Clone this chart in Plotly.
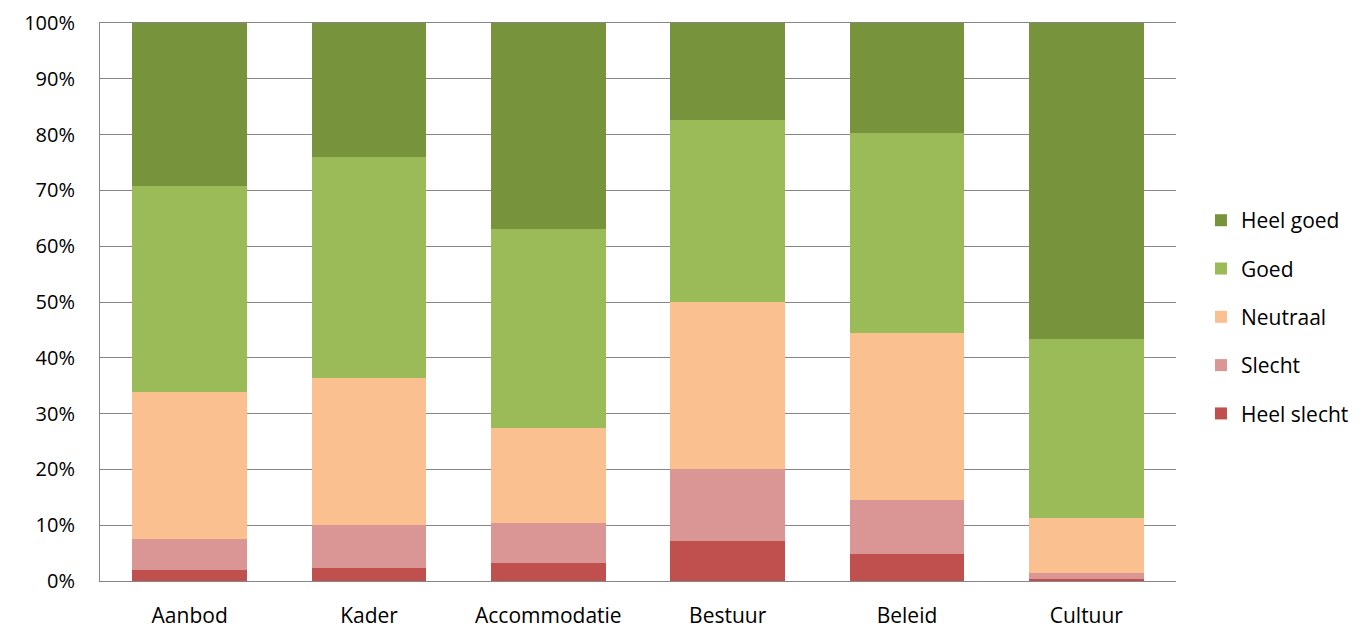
import plotly.graph_objects as go

categories = ["Aanbod", "Kader", "Accommodatie", "Bestuur", "Beleid", "Cultuur"]
heel_slecht = [1.9, 2.4, 3.2, 7.2, 4.9, 0.3]
slecht = [5.6, 7.6, 7.2, 12.9, 9.6, 1.1]
neutraal = [26.4, 26.4, 17.0, 29.9, 30.0, 9.9]
goed = [36.9, 39.5, 35.7, 32.6, 35.8, 32.1]
heel_goed = [29.2, 24.1, 36.9, 17.4, 19.7, 56.6]
tick_values = [0, 10, 20, 30, 40, 50, 60, 70, 80, 90, 100]
tick_labels = [f"{v}%" for v in tick_values]

series = [
    ("Heel slecht", heel_slecht, "#C0504D"),
    ("Slecht", slecht, "#D99694"),
    ("Neutraal", neutraal, "#FAC090"),
    ("Goed", goed, "#9BBB59"),
    ("Heel goed", heel_goed, "#77933C"),
]

fig = go.Figure()
for i, (name, vals, col) in enumerate(series):
    fig.add_trace(go.Bar(
        x=categories, y=vals, name=name, legendgroup=name,
        legendrank=len(series) - i,
        marker=dict(color=col, line=dict(width=0)),
    ))

font = dict(family="'Open Sans', sans-serif", size=21, color="#000000")
yfont = dict(family="'Open Sans', sans-serif", size=20, color="#000000")
fig.update_layout(
    barmode="stack",
    bargap=0.36,
    width=1358, height=620,
    margin=dict(l=92, r=190, t=15, b=47, autoexpand=False),
    paper_bgcolor="white", plot_bgcolor="white",
    font=font,
    showlegend=True,
    legend=dict(
        traceorder="grouped", tracegroupgap=18,
        x=1.0232, xanchor="left", y=0.473, yanchor="middle",
        font=font, bgcolor="rgba(0,0,0,0)",
    ),
    xaxis=dict(
        showline=True, mirror=True, linecolor="#868686", linewidth=1,
        ticks="", showgrid=False, tickfont=font, ticklabelstandoff=16,
        automargin=False,
    ),
    yaxis=dict(
        range=[0, 100], tickmode="array", tickvals=tick_values, ticktext=tick_labels,
        showgrid=True, gridcolor="#868686", gridwidth=1,
        showline=True, linecolor="#868686", linewidth=1, ticks="",
        tickfont=yfont, zeroline=False, ticklabelstandoff=20, automargin=False,
        ticklabeloverflow="allow",
    ),
)

fig.write_html("out.html")
